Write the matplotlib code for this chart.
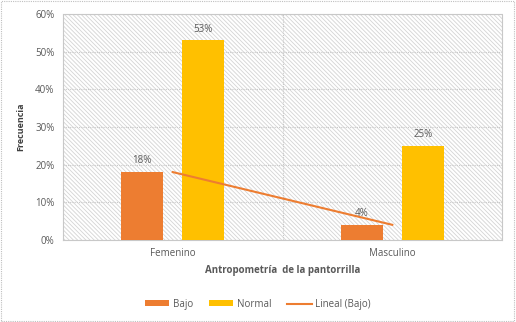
import matplotlib
matplotlib.use("Agg")
import matplotlib.pyplot as plt
import numpy as np
from matplotlib.patches import Rectangle

plt.rcParams['font.family'] = ['Open Sans', 'DejaVu Sans']
plt.rcParams['hatch.linewidth'] = 0.6

# Frecuencias por sexo
categorias = ["Femenino", "Masculino"]
bajo = [18, 4]
normal = [53, 25]

c_bajo = "#ED7D31"
c_normal = "#FFC000"
gris = "#595959"

fig = plt.figure(figsize=(5.16, 3.22), dpi=100)
ax = fig.add_axes([0.122, 0.255, 0.851, 0.702])

x = np.arange(len(categorias))
ancho = 0.19
desp = 0.139

# fondo rayado del area de trazado
ax.add_patch(Rectangle((0, 0), 1, 1, transform=ax.transAxes, facecolor="white",
                       edgecolor="#D4D4D4", hatch="\\" * 8, linewidth=0, zorder=0))

ax.bar(x - desp, bajo, ancho, color=c_bajo, label="Bajo", zorder=3)
ax.bar(x + desp, normal, ancho, color=c_normal, label="Normal", zorder=3)

for xi, v in zip(x - desp, bajo):
    ax.text(xi, v + 1.5, f"{v}%", ha="center", va="bottom", fontsize=7, color=gris, zorder=5)
for xi, v in zip(x + desp, normal):
    ax.text(xi, v + 1.5, f"{v}%", ha="center", va="bottom", fontsize=7, color=gris, zorder=5)

# linea de tendencia lineal de la serie Bajo
coef = np.polyfit(x, bajo, 1)
ax.plot(x, np.polyval(coef, x), color=c_bajo, linewidth=1.5, label="Lineal (Bajo)", zorder=4)

ax.set_xlim(-0.5, 1.5)
ax.set_ylim(0, 60)
ax.set_yticks(np.arange(0, 61, 10))
ax.set_yticklabels([f"{t}%" for t in range(0, 61, 10)])
ax.set_xticks(x)
ax.set_xticklabels(categorias)
ax.set_xticks([0.5], minor=True)
ax.tick_params(axis="both", length=0, labelsize=7, colors=gris, pad=6)
ax.tick_params(which="minor", length=0)

ax.grid(axis="y", color="#C8C8C8", linewidth=0.8, linestyle=(0, (1, 1)), zorder=1)
ax.grid(axis="x", which="minor", color="#C8C8C8", linewidth=0.8, linestyle=(0, (1, 1)), zorder=1)
for s in ax.spines.values():
    s.set_color("#C8C8C8")
    s.set_linestyle((0, (1, 1)))
    s.set_linewidth(0.8)

ax.set_xlabel("Antropometría  de la pantorrilla", fontsize=7, fontweight="bold", color=gris, labelpad=4)
ax.set_ylabel("Frecuencia", fontsize=6.5, fontweight="bold", color="#404040", labelpad=7)

handles, labels = ax.get_legend_handles_labels()
orden = [1, 2, 0]
fig.legend([handles[i] for i in orden], [labels[i] for i in orden], loc="center",
           bbox_to_anchor=(0.5, 0.055), ncol=3, frameon=False, fontsize=7,
           labelcolor=gris, handlelength=2.5, handleheight=0.6, columnspacing=1.6, handletextpad=0.4)

# borde punteado del grafico
fig.patches.append(Rectangle((0.002, 0.003), 0.995, 0.994, transform=fig.transFigure,
                             fill=False, edgecolor="#BFBFBF", linestyle=(0, (1, 1)), linewidth=0.8))

fig.savefig("out.png", dpi=100)
